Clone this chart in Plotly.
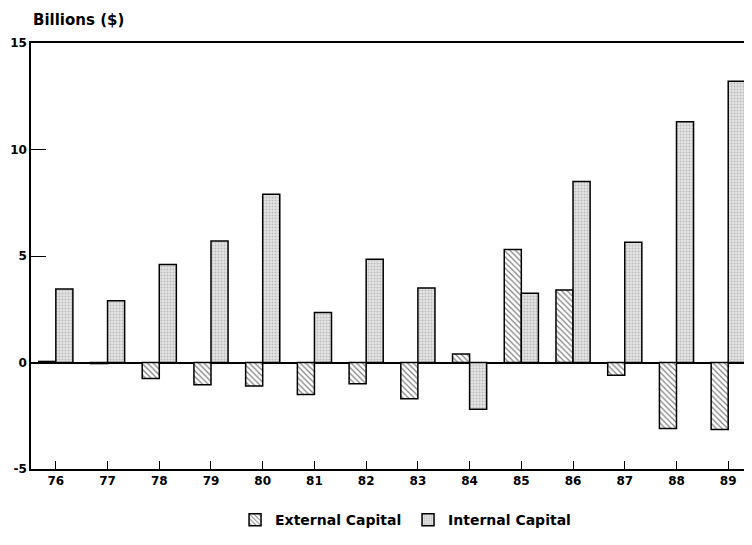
import plotly.graph_objects as go

years = ["76", "77", "78", "79", "80", "81", "82", "83", "84", "85", "86", "87", "88", "89"]
external_capital = [0.05, -0.05, -0.75, -1.05, -1.1, -1.5, -1.0, -1.7, 0.4, 5.3, 3.4, -0.6, -3.1, -3.15]
internal_capital = [3.45, 2.9, 4.6, 5.7, 7.9, 2.35, 4.85, 3.5, -2.2, 3.25, 8.5, 5.65, 11.3, 13.2]
y_ticks = [-5, 0, 5, 10, 15]
y_tick_labels = ["-5", "0", "5", "10", "15"]

FONT = "DejaVu Sans"

fig = go.Figure()
fig.add_trace(go.Bar(
    x=years, y=external_capital, name="External Capital",
    marker=dict(color="white", line=dict(color="black", width=1.5),
                pattern=dict(shape="\\", fgcolor="black", bgcolor="white", size=4, solidity=0.3)),
))
fig.add_trace(go.Bar(
    x=years, y=internal_capital, name="Internal Capital",
    marker=dict(color="#dcdcdc", line=dict(color="black", width=1.5),
                pattern=dict(shape=".", fgcolor="#909090", bgcolor="#e4e4e4", size=3, solidity=0.35)),
))

fig.update_layout(
    width=744, height=529,
    margin=dict(l=23, r=0, t=35, b=68),
    paper_bgcolor="white", plot_bgcolor="white",
    barmode="group", bargap=0.34, bargroupgap=0,
    font=dict(family=FONT, size=12, color="black"),
    showlegend=True,
    legend=dict(orientation="h", x=0.283, xanchor="left", y=-0.12, yanchor="middle",
                font=dict(family=FONT, size=14, color="black", weight="bold"),
                traceorder="normal", itemwidth=30,
                entrywidth=128, entrywidthmode="pixels"),
    annotations=[dict(text="Billions ($)", xref="paper", yref="paper", x=0, y=1.027,
                      xanchor="left", yanchor="bottom", showarrow=False,
                      font=dict(family=FONT, size=15, color="black", weight="bold"))],
)
fig.update_xaxes(
    type="category", range=[-0.48, 13.46], automargin=False,
    showline=True, linecolor="black", linewidth=1.5, mirror=True,
    ticks="inside", ticklen=8, tickwidth=1.2, tickcolor="black",
    showgrid=False,
    tickfont=dict(family=FONT, size=12, color="black", weight="bold"),
)
fig.update_yaxes(
    range=[-5, 15], tickvals=y_ticks, ticktext=y_tick_labels, automargin=False,
    showline=True, linecolor="black", linewidth=1.5,
    ticks="inside", ticklen=15, tickwidth=1.2, tickcolor="black",
    showgrid=False, zeroline=True, zerolinecolor="black", zerolinewidth=1.5,
    tickfont=dict(family=FONT, size=12, color="black", weight="bold"),
)

fig.write_html("out.html")
